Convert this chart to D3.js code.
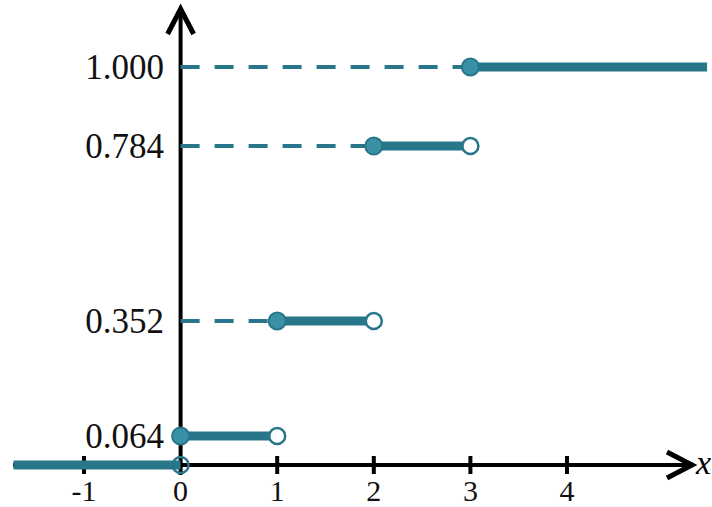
<!DOCTYPE html>
<html><head><meta charset="utf-8">
<script src="https://cdn.jsdelivr.net/npm/d3@7"></script>
<style>html,body{margin:0;padding:0;background:#fff;}svg{display:block;}</style>
</head><body>
<svg id="chart" width="712" height="507"></svg>
<script>
// data
const xTicks = [-1, 1, 2, 3, 4];
const xTickLabels = ["-1", "0", "1", "2", "3", "4"];
const xLabelValues = [-1, 0, 1, 2, 3, 4];
const breakpoints = [0, 1, 2, 3];
const cdfValues = [0.064, 0.352, 0.784, 1.000];
const yTickLabels = ["0.064", "0.352", "0.784", "1.000"];
const xMin = -1.73, xMax = 5.45;

const teal = "#27768a", tealFill = "#3a90a5";
const svg = d3.select("#chart");
const x = d3.scaleLinear().domain([-1, 4]).range([84, 567]);
const y = d3.scaleLinear().domain([0, 0.064, 0.352, 0.784, 1]).range([465, 436, 321, 146, 67]);
const font = "'Liberation Serif','Times New Roman',serif";

// axes
const x0 = x(0), y0 = y(0);
svg.append("line").attr("x1", 13).attr("x2", 692).attr("y1", y0).attr("y2", y0)
  .attr("stroke", "#000").attr("stroke-width", 4);
svg.append("polyline").attr("points", `${667},${452} ${692},${y0} ${667},${478}`)
  .attr("fill", "none").attr("stroke", "#000").attr("stroke-width", 5);
svg.append("line").attr("x1", x0).attr("x2", x0).attr("y1", 475).attr("y2", 10)
  .attr("stroke", "#000").attr("stroke-width", 4);
svg.append("polyline").attr("points", `${x0-13},${34} ${x0},${9} ${x0+13},${34}`)
  .attr("fill", "none").attr("stroke", "#000").attr("stroke-width", 5);
svg.selectAll(".xt").data(xTicks).join("line")
  .attr("x1", d => x(d)).attr("x2", d => x(d)).attr("y1", y0 - 9).attr("y2", y0 + 9)
  .attr("stroke", "#000").attr("stroke-width", 4);
svg.selectAll(".xl").data(xLabelValues).join("text")
  .attr("x", d => x(d)).attr("y", 501).attr("text-anchor", "middle")
  .attr("font-family", font).attr("font-size", 30).attr("fill", "#111")
  .text((d, i) => xTickLabels[i]);
svg.append("text").attr("x", 696).attr("y", 474).attr("font-family", font)
  .attr("font-style", "italic").attr("font-size", 34).text("x");
svg.selectAll(".yl").data(cdfValues).join("text")
  .attr("x", 164).attr("y", d => y(d) + 12).attr("text-anchor", "end")
  .attr("font-family", font).attr("font-size", 35).attr("fill", "#111")
  .text((d, i) => yTickLabels[i]);

// dashed guides
svg.selectAll(".dash").data(cdfValues.slice(1)).join("line")
  .attr("x1", x0).attr("x2", (d, i) => x(breakpoints[i + 1])).attr("y1", d => y(d)).attr("y2", d => y(d))
  .attr("stroke", teal).attr("stroke-width", 4).attr("stroke-dasharray", "19,15");

// step segments
const segs = [{a: xMin, b: 0, v: 0}].concat(breakpoints.map((b, i) => ({
  a: b, b: i + 1 < breakpoints.length ? breakpoints[i + 1] : xMax, v: cdfValues[i]})));
svg.selectAll(".seg").data(segs).join("line")
  .attr("x1", d => x(d.a)).attr("x2", d => x(d.b)).attr("y1", d => y(d.v)).attr("y2", d => y(d.v))
  .attr("stroke", teal).attr("stroke-width", 9);

// open circles (right limits not attained)
const openPts = [{x: 0, v: 0}].concat(breakpoints.slice(1).map((b, i) => ({x: b, v: cdfValues[i]})));
svg.selectAll(".open").data(openPts).join("circle")
  .attr("cx", d => x(d.x)).attr("cy", d => y(d.v)).attr("r", 8)
  .attr("fill", d => d.x === 0 ? "none" : "#fff").attr("stroke", teal).attr("stroke-width", 2.5);
// filled circles
svg.selectAll(".fill").data(breakpoints).join("circle")
  .attr("cx", d => x(d)).attr("cy", (d, i) => y(cdfValues[i])).attr("r", 8.5)
  .attr("fill", tealFill).attr("stroke", teal).attr("stroke-width", 2);
</script>
</body></html>
